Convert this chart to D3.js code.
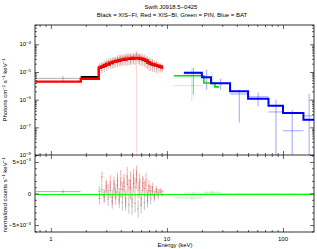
<!DOCTYPE html>
<html>
<head>
<meta charset="utf-8">
<script src="https://cdn.jsdelivr.net/npm/d3@7"></script>
<style>
  body { margin: 0; background: #fff; }
  svg { display: block; font-family: "Liberation Sans", Arial, sans-serif; }
</style>
</head>
<body>
<div id="chart"></div>
<script>
// ---- values ----

var title1 = "Swift J0918.5\u22120425";
var title2 = "Black = XIS\u2212FI, Red = XIS\u2212BI, Green = PIN, Blue = BAT";

// tick labels
var xTickLabels = [1, 10, 100];
var yTopExponents = [-8, -7, -6, -5, -4];
var yBotTicks = [-0.005, 0, 0.005];
var yBotTickBase = ["\u22125\u00d710", "0", "5\u00d710"];
var yBotTickExp = ["\u22123", "", "\u22123"];

// models (bin edges + photon flux per bin)
var biModelEdges = [0.74, 1.81, 2.59, 2.7, 2.85, 3.0, 3.2, 3.4, 3.6, 3.8, 4.0, 4.25, 4.5, 4.75, 5.0, 5.3, 5.6, 5.9, 6.2, 6.5, 6.8, 7.1, 7.4, 7.8, 8.2, 8.6, 9.0, 9.3];
var biModel = [4.5e-6, 5.7e-6, 1.45e-5, 1.6e-5, 1.75e-5, 1.95e-5, 2.15e-5, 2.35e-5, 2.5e-5, 2.65e-5, 2.8e-5, 2.95e-5, 3.05e-5, 3.12e-5, 3.2e-5, 3.22e-5, 3.18e-5, 3.05e-5, 2.85e-5, 2.6e-5, 2.25e-5, 2.05e-5, 1.92e-5, 1.8e-5, 1.7e-5, 1.6e-5, 1.45e-5];
var fiModelEdges = [1.81, 2.59, 2.7, 2.85, 3.0, 3.2, 3.4, 3.6, 3.8, 4.0, 4.25, 4.5, 4.75, 5.0, 5.3, 5.6, 5.9, 6.2, 6.5, 6.8, 7.1, 7.4, 7.8, 8.2, 8.6, 9.0];
var fiModel = [6.6e-6, 1.4e-5, 1.52e-5, 1.68e-5, 1.88e-5, 2.08e-5, 2.28e-5, 2.44e-5, 2.58e-5, 2.72e-5, 2.86e-5, 2.96e-5, 3.04e-5, 3.1e-5, 3.13e-5, 3.1e-5, 2.98e-5, 2.78e-5, 2.55e-5, 2.2e-5, 2.0e-5, 1.88e-5, 1.76e-5, 1.66e-5, 1.56e-5];
var pinModelEdges = [11.5, 20.8, 25.9, 28.1];
var pinModel = [7.3e-6, 4.0e-6, 2.9e-6];
var batModelEdges = [14, 20, 24, 35, 50, 75, 100, 150, 195];
var batModel = [9.4e-6, 6.5e-6, 3.9e-6, 2.0e-6, 1.08e-6, 6.0e-7, 3.3e-7, 1.87e-7];

// XIS data (shared energy grid, keV)
var xisEnergy = [2.62, 2.75, 2.88, 3.0, 3.12, 3.25, 3.38, 3.5, 3.62, 3.75, 3.88, 4.0, 4.13, 4.27, 4.41, 4.55, 4.7, 4.85, 5.0, 5.16, 5.32, 5.48, 5.65, 5.82, 6.0, 6.2, 6.4, 6.6, 6.8, 7.0, 7.25, 7.5, 7.8, 8.1, 8.4, 8.75, 9.1];
var fiFlux = [1.3e-5, 1.7e-5, 1.55e-5, 2.1e-5, 1.9e-5, 2.3e-5, 2.0e-5, 2.6e-5, 2.3e-5, 2.9e-5, 2.5e-5, 3.1e-5, 2.6e-5, 3.3e-5, 2.7e-5, 3.5e-5, 2.8e-5, 3.4e-5, 2.9e-5, 3.6e-5, 2.8e-5, 4.3e-5, 2.9e-5, 3.5e-5, 2.6e-5, 3.3e-5, 2.5e-5, 2.9e-5, 2.1e-5, 2.5e-5, 1.8e-5, 2.2e-5, 1.6e-5, 1.9e-5, 1.45e-5, 1.6e-5, 1.35e-5];
var fiFluxErr = [0.5e-5, 0.6e-5, 0.6e-5, 0.7e-5, 0.7e-5, 0.8e-5, 0.7e-5, 0.9e-5, 0.8e-5, 1.0e-5, 0.9e-5, 1.1e-5, 0.9e-5, 1.1e-5, 1.0e-5, 1.2e-5, 1.0e-5, 1.2e-5, 1.0e-5, 1.2e-5, 1.0e-5, 1.3e-5, 1.0e-5, 1.2e-5, 0.9e-5, 1.1e-5, 0.9e-5, 1.0e-5, 0.8e-5, 0.9e-5, 0.7e-5, 0.8e-5, 0.6e-5, 0.7e-5, 0.5e-5, 0.5e-5, 0.4e-5];
var biFlux = [1.6e-5, 1.5e-5, 2.0e-5, 1.8e-5, 2.4e-5, 2.1e-5, 2.7e-5, 2.3e-5, 2.9e-5, 2.5e-5, 3.2e-5, 2.7e-5, 3.4e-5, 2.8e-5, 3.6e-5, 2.9e-5, 3.8e-5, 3.0e-5, 3.7e-5, 3.1e-5, 4.0e-5, 2.6e-5, 3.9e-5, 3.0e-5, 3.6e-5, 2.7e-5, 3.3e-5, 2.4e-5, 2.8e-5, 2.0e-5, 2.4e-5, 1.8e-5, 2.1e-5, 1.6e-5, 1.8e-5, 1.45e-5, 1.5e-5];
var biFluxErr = [0.5e-5, 0.6e-5, 0.6e-5, 0.7e-5, 0.7e-5, 0.8e-5, 0.7e-5, 0.9e-5, 0.8e-5, 1.0e-5, 0.9e-5, 1.1e-5, 0.9e-5, 1.1e-5, 1.0e-5, 1.2e-5, 1.0e-5, 1.2e-5, 1.0e-5, 1.2e-5, 1.0e-5, 2.6e-5, 1.0e-5, 1.2e-5, 0.9e-5, 1.1e-5, 0.9e-5, 1.0e-5, 0.8e-5, 0.9e-5, 0.7e-5, 0.8e-5, 0.6e-5, 0.7e-5, 0.5e-5, 0.5e-5, 0.4e-5];
var fiResid = [-0.0008, 0.0006, -0.0003, 0.0009, -0.0009, 0.0005, -0.0012, 0.0008, -0.0006, 0.0013, -0.0010, 0.0007, -0.0015, 0.0011, -0.0013, 0.0014, -0.0018, 0.0006, -0.0020, 0.0016, -0.0016, 0.0022, -0.0024, 0.0009, -0.0019, 0.0012, -0.0014, 0.0008, -0.0011, 0.0005, -0.0008, 0.0004, -0.0006, 0.0003, -0.0004, 0.0002, -0.0002];
var biResid = [0.0003, 0.0026, -0.0005, 0.0012, 0.0004, 0.0018, -0.0006, 0.0015, 0.0002, 0.0020, -0.0004, 0.0024, 0.0006, 0.0017, -0.0008, 0.0028, 0.0009, 0.0021, -0.0003, 0.0025, 0.0010, 0.0030, 0.0005, 0.0019, -0.0007, 0.0016, 0.0008, 0.0022, -0.0005, 0.0011, 0.0004, 0.0009, -0.0003, 0.0006, 0.0002, 0.0005, 0.0003];
var fiResidErr = [0.0009, 0.0010, 0.0010, 0.0011, 0.0011, 0.0012, 0.0012, 0.0013, 0.0012, 0.0013, 0.0013, 0.0014, 0.0013, 0.0014, 0.0014, 0.0014, 0.0014, 0.0015, 0.0014, 0.0015, 0.0014, 0.0015, 0.0014, 0.0014, 0.0013, 0.0013, 0.0012, 0.0012, 0.0011, 0.0010, 0.0009, 0.0008, 0.0007, 0.0006, 0.0005, 0.0004, 0.0003];
var biResidErr = [0.0008, 0.0009, 0.0010, 0.0010, 0.0011, 0.0011, 0.0012, 0.0012, 0.0012, 0.0013, 0.0013, 0.0013, 0.0013, 0.0014, 0.0014, 0.0014, 0.0014, 0.0014, 0.0014, 0.0014, 0.0014, 0.0014, 0.0013, 0.0013, 0.0013, 0.0012, 0.0012, 0.0011, 0.0011, 0.0010, 0.0009, 0.0008, 0.0007, 0.0006, 0.0005, 0.0004, 0.0003];

// soft XIS-FI bin
var fiSoftE = [1.27], fiSoftLo = [0.74], fiSoftHi = [1.8];
var fiSoftFlux = [5.9e-6], fiSoftErr = [1.2e-6];
var fiSoftResid = [0.0003], fiSoftResidErr = [0.0003];

// PIN data
var pinE = [16.4, 24.5], pinELo = [11.6, 20.8], pinEHi = [20.3, 28.5];
var pinFlux = [3.2e-6, 4.2e-6], pinFluxLo = [8.6e-7, 3.0e-6], pinFluxHi = [1.4e-5, 1.05e-5];
var pinResid = [-0.0007, 0.0002], pinResidErr = [0.0003, 0.0002];

// BAT data
var batE = [16.9, 22, 29, 42, 61, 87, 120, 168];
var batELo = [14, 20, 24, 35, 50, 75, 100, 150];
var batEHi = [20, 24, 35, 50, 75, 100, 150, 195];
var batFlux = [8.7e-6, 6.2e-6, 3.8e-6, 1.6e-6, 1.27e-6, 3.6e-7, 7.5e-8, 2.6e-7];
var batFluxLo = [1.5e-6, 2.3e-6, 2.3e-6, 1.5e-7, 5.7e-7, 0, 0, 0];
var batFluxHi = [1.43e-5, 1.21e-5, 5.7e-6, 2.3e-6, 1.8e-6, 1.0e-6, 4.3e-7, 1.64e-6];
var batResid = [0.00005, -0.00003, 0.00002, -0.00001, 0.00001, 0, 0, 0];
var batResidErr = [0.0001, 0.0001, 0.00008, 0.00006, 0.00005, 0.00004, 0.00003, 0.00003];

// ---- layout ----
var W = 317, H = 249;
var plotL = 35, plotR = 314, plotT = 25, plotM = 155, plotB = 232;

var svg = d3.select("#chart")
  .append("svg")
  .attr("width", W)
  .attr("height", H);

var x = d3.scaleLog().domain([0.73, 185]).range([plotL, plotR]);
var yTop = d3.scaleLog().domain([1e-8, 5e-4]).range([plotM, plotT]);
var yBot = d3.scaleLinear().domain([-0.0061, 0.0061]).range([plotB, plotM]);

svg.append("clipPath").attr("id", "clipTop")
  .append("rect").attr("x", plotL).attr("y", plotT).attr("width", plotR - plotL).attr("height", plotM - plotT);
svg.append("clipPath").attr("id", "clipBot")
  .append("rect").attr("x", plotL).attr("y", plotM).attr("width", plotR - plotL).attr("height", plotB - plotM);

var gTop = svg.append("g").attr("clip-path", "url(#clipTop)");
var gBot = svg.append("g").attr("clip-path", "url(#clipBot)");

function floorLog(v) { return Math.max(v, 1e-10); }

// error bar crosses: points are {x, xlo, xhi, y, ylo, yhi}
function crosses(g, pts, yScale, color, width) {
  var c = g.append("g").attr("stroke", color).attr("stroke-width", width).attr("fill", "none");
  c.selectAll(".h").data(pts).enter().append("line")
    .attr("x1", function(d) { return x(d.xlo); })
    .attr("x2", function(d) { return x(d.xhi); })
    .attr("y1", function(d) { return yScale(d.y); })
    .attr("y2", function(d) { return yScale(d.y); });
  c.selectAll(".v").data(pts).enter().append("line")
    .attr("x1", function(d) { return x(d.x); })
    .attr("x2", function(d) { return x(d.x); })
    .attr("y1", function(d) { return yScale(d.ylo); })
    .attr("y2", function(d) { return yScale(d.yhi); })
    .attr("stroke-dasharray", function(d) { return d.ylo <= 1e-9 && yScale === yTop && d.x < 10 ? "1,1" : null; });
}

// half-bin edges of the XIS grid
function xisLo(i) { return i === 0 ? xisEnergy[0] - (xisEnergy[1] - xisEnergy[0]) / 2 : (xisEnergy[i - 1] + xisEnergy[i]) / 2; }
function xisHi(i) { var n = xisEnergy.length; return i === n - 1 ? xisEnergy[n - 1] + (xisEnergy[n - 1] - xisEnergy[n - 2]) / 2 : (xisEnergy[i] + xisEnergy[i + 1]) / 2; }

function xisPoints(vals, errs, logy) {
  return xisEnergy.map(function(e, i) {
    return { x: e, xlo: xisLo(i), xhi: xisHi(i), y: vals[i],
             ylo: logy ? floorLog(vals[i] - errs[i]) : vals[i] - errs[i], yhi: vals[i] + errs[i] };
  });
}

function stepLine(edges, vals) {
  var pts = vals.map(function(v, i) { return [edges[i], v]; });
  pts.push([edges[edges.length - 1], vals[vals.length - 1]]);
  return pts;
}

var modelLine = d3.line()
  .curve(d3.curveStepAfter)
  .x(function(d) { return x(d[0]); })
  .y(function(d) { return yTop(d[1]); });

// ---- upper panel: unfolded spectrum ----
var fiSoftPts = fiSoftE.map(function(e, i) {
  return { x: e, xlo: fiSoftLo[i], xhi: fiSoftHi[i], y: fiSoftFlux[i], ylo: fiSoftFlux[i] - fiSoftErr[i], yhi: fiSoftFlux[i] + fiSoftErr[i] };
});
crosses(gTop, fiSoftPts, yTop, "rgba(90,90,90,0.6)", 0.8);
crosses(gTop, xisPoints(fiFlux, fiFluxErr, true), yTop, "rgba(70,70,70,0.4)", 0.8);
crosses(gTop, xisPoints(biFlux, biFluxErr, true), yTop, "rgba(255,50,50,0.5)", 0.8);

var pinPts = pinE.map(function(e, i) {
  return { x: e, xlo: pinELo[i], xhi: pinEHi[i], y: pinFlux[i], ylo: pinFluxLo[i], yhi: pinFluxHi[i] };
});
crosses(gTop, pinPts, yTop, "rgba(90,230,90,0.5)", 0.8);

var batPts = batE.map(function(e, i) {
  return { x: e, xlo: batELo[i], xhi: batEHi[i], y: batFlux[i], ylo: floorLog(batFluxLo[i]), yhi: batFluxHi[i] };
});
crosses(gTop, batPts, yTop, "rgba(60,60,255,0.6)", 0.8);

// model histograms
gTop.append("path").datum(stepLine(fiModelEdges, fiModel))
  .attr("fill", "none").attr("stroke", "#000").attr("stroke-width", 2).attr("d", modelLine);
gTop.append("path").datum(stepLine(biModelEdges, biModel))
  .attr("fill", "none").attr("stroke", "#ff0000").attr("stroke-width", 2.4).attr("d", modelLine);
gTop.append("path").datum(stepLine(pinModelEdges, pinModel))
  .attr("fill", "none").attr("stroke", "#00dd00").attr("stroke-width", 1.6).attr("d", modelLine);
gTop.append("path").datum(stepLine(batModelEdges, batModel))
  .attr("fill", "none").attr("stroke", "#0000ff").attr("stroke-width", 2).attr("d", modelLine);

// ---- lower panel: residuals ----
crosses(gBot, batE.map(function(e, i) {
  return { x: e, xlo: batELo[i], xhi: batEHi[i], y: batResid[i], ylo: batResid[i] - batResidErr[i], yhi: batResid[i] + batResidErr[i] };
}), yBot, "rgba(60,60,255,0.4)", 0.6);

var fiSoftRes = fiSoftE.map(function(e, i) {
  return { x: e, xlo: fiSoftLo[i], xhi: fiSoftHi[i], y: fiSoftResid[i], ylo: fiSoftResid[i] - fiSoftResidErr[i], yhi: fiSoftResid[i] + fiSoftResidErr[i] };
});
crosses(gBot, fiSoftRes, yBot, "rgba(90,90,90,0.6)", 0.8);
crosses(gBot, xisPoints(fiResid, fiResidErr, false), yBot, "rgba(70,70,70,0.4)", 0.8);
crosses(gBot, xisPoints(biResid, biResidErr, false), yBot, "rgba(255,50,50,0.5)", 0.8);
crosses(gBot, pinE.map(function(e, i) {
  return { x: e, xlo: pinELo[i], xhi: pinEHi[i], y: pinResid[i], ylo: pinResid[i] - pinResidErr[i], yhi: pinResid[i] + pinResidErr[i] };
}), yBot, "rgba(90,230,90,0.5)", 0.8);

// zero line, on top of the residuals
gBot.append("line")
  .attr("x1", plotL).attr("x2", plotR)
  .attr("y1", Math.round(yBot(0)) + 0.5).attr("y2", Math.round(yBot(0)) + 0.5)
  .attr("stroke", "#00ff00").attr("stroke-width", 1);

// ---- frames and inward ticks ----
function cleanAxis(g) {
  g.select(".domain").remove();
  g.selectAll("text").remove();
  g.selectAll("line").attr("stroke", "#000").attr("stroke-width", 0.6);
}
function innerTicks(axisMaker, scale, transform, majors, minors) {
  svg.append("g").attr("transform", transform)
    .call(axisMaker(scale).tickValues(majors).tickSize(-4).tickFormat(""))
    .call(cleanAxis);
  svg.append("g").attr("transform", transform)
    .call(axisMaker(scale).tickValues(minors).tickSize(-2).tickFormat(""))
    .call(cleanAxis);
}
function isPow10(v) { var l = Math.log10(v); return Math.abs(l - Math.round(l)) < 1e-6; }

var xMajor = x.ticks().filter(isPow10);
var xMinor = x.ticks().filter(function(v) { return !isPow10(v); });
var yTopMajor = yTop.ticks().filter(isPow10);
var yTopMinor = yTop.ticks().filter(function(v) { return !isPow10(v); });
var yBotMinor = yBot.ticks(12).filter(function(v) { return Math.abs(v % 0.005) > 1e-9 && Math.abs(Math.abs(v % 0.005) - 0.005) > 1e-9; });

innerTicks(d3.axisTop, x, "translate(0," + plotT + ")", xMajor, xMinor);
innerTicks(d3.axisBottom, x, "translate(0," + plotM + ")", xMajor, xMinor);
innerTicks(d3.axisTop, x, "translate(0," + plotM + ")", xMajor, xMinor);
innerTicks(d3.axisBottom, x, "translate(0," + plotB + ")", xMajor, xMinor);
innerTicks(d3.axisLeft, yTop, "translate(" + plotL + ",0)", yTopMajor, yTopMinor);
innerTicks(d3.axisRight, yTop, "translate(" + plotR + ",0)", yTopMajor, yTopMinor);
innerTicks(d3.axisLeft, yBot, "translate(" + plotL + ",0)", yBotTicks, yBotMinor);
innerTicks(d3.axisRight, yBot, "translate(" + plotR + ",0)", yBotTicks, yBotMinor);

svg.append("rect")
  .attr("x", plotL).attr("y", plotT).attr("width", plotR - plotL).attr("height", plotB - plotT)
  .attr("fill", "none").attr("stroke", "#000").attr("stroke-width", 0.8);
svg.append("line")
  .attr("x1", plotL).attr("x2", plotR).attr("y1", plotM).attr("y2", plotM)
  .attr("stroke", "#000").attr("stroke-width", 0.8);

// ---- text ----
var fs = 6;

svg.append("text").attr("x", 171).attr("y", 8.5).attr("text-anchor", "middle")
  .attr("font-size", fs).text(title1);
svg.append("text").attr("x", 172).attr("y", 16.5).attr("text-anchor", "middle")
  .attr("font-size", fs).text(title2);

// upper y tick labels
yTopExponents.forEach(function(e) {
  var t = svg.append("text")
    .attr("x", plotL - 4).attr("y", yTop(Math.pow(10, e)) + 2)
    .attr("text-anchor", "end").attr("font-size", fs).text("10");
  t.append("tspan").attr("dy", -2.5).attr("font-size", 4.3).text("\u2212" + Math.abs(e));
});

// lower y tick labels
yBotTicks.forEach(function(v, i) {
  var t = svg.append("text")
    .attr("x", plotL - 4).attr("y", yBot(v) + 2)
    .attr("text-anchor", "end").attr("font-size", fs).text(yBotTickBase[i]);
  if (yBotTickExp[i]) t.append("tspan").attr("dy", -2.5).attr("font-size", 4.3).text(yBotTickExp[i]);
});

// x tick labels
xTickLabels.forEach(function(v) {
  svg.append("text")
    .attr("x", x(v)).attr("y", plotB + 8.5)
    .attr("text-anchor", "middle").attr("font-size", fs).text(v);
});

svg.append("text").attr("x", 175).attr("y", 247).attr("text-anchor", "middle")
  .attr("font-size", fs).text("Energy (keV)");

// rotated y titles with superscripts
function yTitle(cx, cy, parts) {
  var t = svg.append("text")
    .attr("transform", "translate(" + cx + "," + cy + ") rotate(-90)")
    .attr("text-anchor", "middle").attr("font-size", fs);
  parts.forEach(function(p) {
    t.append("tspan").attr("dy", p[1]).attr("font-size", p[1] < 0 ? 4.3 : fs).text(p[0]);
  });
}
yTitle(7, 90, [["Photons cm", 0], ["\u22122", -2.5], [" s", 2.5], ["\u22121", -2.5], [" keV", 2.5], ["\u22121", -2.5]]);
yTitle(7, 195, [["normalized counts s", 0], ["\u22121", -2.5], [" keV", 2.5], ["\u22121", -2.5]]);
</script>
</body>
</html>
